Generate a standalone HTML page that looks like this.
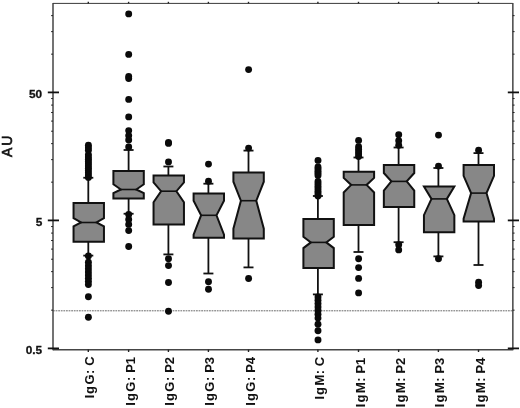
<!DOCTYPE html>
<html><head><meta charset="utf-8"><title>AU boxplot</title>
<style>html,body{margin:0;padding:0;background:#fff;}svg{display:block;}</style>
</head><body>
<svg width="520" height="408" viewBox="0 0 520 408">
<rect x="0" y="0" width="520" height="408" fill="#fff"/>
<line x1="53.0" y1="310.8" x2="512.7" y2="310.8" stroke="#6a6a6a" stroke-width="1" stroke-dasharray="1.8 0.8"/>
<line x1="53.0" y1="2.9499999999999997" x2="53.0" y2="350.20000000000005" stroke="#454545" stroke-width="1.5"/>
<line x1="512.85" y1="2.9499999999999997" x2="512.85" y2="350.20000000000005" stroke="#454545" stroke-width="1.5"/>
<line x1="53.0" y1="3.4" x2="512.7" y2="3.4" stroke="#3a3a3a" stroke-width="1.0"/>
<line x1="53.0" y1="349.75" x2="512.7" y2="349.75" stroke="#454545" stroke-width="1.3"/>
<line x1="47.8" y1="92.40" x2="59" y2="92.40" stroke="#111" stroke-width="1.8"/>
<line x1="507.8" y1="92.40" x2="519" y2="92.40" stroke="#111" stroke-width="1.8"/>
<line x1="47.8" y1="220.40" x2="59" y2="220.40" stroke="#111" stroke-width="1.8"/>
<line x1="507.8" y1="220.40" x2="519" y2="220.40" stroke="#111" stroke-width="1.8"/>
<line x1="47.8" y1="348.40" x2="59" y2="348.40" stroke="#111" stroke-width="1.8"/>
<line x1="507.8" y1="348.40" x2="519" y2="348.40" stroke="#111" stroke-width="1.8"/>
<line x1="51.1" y1="310.17" x2="53.0" y2="310.17" stroke="#222" stroke-width="1"/>
<line x1="512.7" y1="310.17" x2="514.6" y2="310.17" stroke="#222" stroke-width="1"/>
<line x1="51.1" y1="287.63" x2="53.0" y2="287.63" stroke="#222" stroke-width="1"/>
<line x1="512.7" y1="287.63" x2="514.6" y2="287.63" stroke="#222" stroke-width="1"/>
<line x1="51.1" y1="271.64" x2="53.0" y2="271.64" stroke="#222" stroke-width="1"/>
<line x1="512.7" y1="271.64" x2="514.6" y2="271.64" stroke="#222" stroke-width="1"/>
<line x1="51.1" y1="259.23" x2="53.0" y2="259.23" stroke="#222" stroke-width="1"/>
<line x1="512.7" y1="259.23" x2="514.6" y2="259.23" stroke="#222" stroke-width="1"/>
<line x1="51.1" y1="249.10" x2="53.0" y2="249.10" stroke="#222" stroke-width="1"/>
<line x1="512.7" y1="249.10" x2="514.6" y2="249.10" stroke="#222" stroke-width="1"/>
<line x1="51.1" y1="240.53" x2="53.0" y2="240.53" stroke="#222" stroke-width="1"/>
<line x1="512.7" y1="240.53" x2="514.6" y2="240.53" stroke="#222" stroke-width="1"/>
<line x1="51.1" y1="233.10" x2="53.0" y2="233.10" stroke="#222" stroke-width="1"/>
<line x1="512.7" y1="233.10" x2="514.6" y2="233.10" stroke="#222" stroke-width="1"/>
<line x1="51.1" y1="226.56" x2="53.0" y2="226.56" stroke="#222" stroke-width="1"/>
<line x1="512.7" y1="226.56" x2="514.6" y2="226.56" stroke="#222" stroke-width="1"/>
<line x1="51.1" y1="182.17" x2="53.0" y2="182.17" stroke="#222" stroke-width="1"/>
<line x1="512.7" y1="182.17" x2="514.6" y2="182.17" stroke="#222" stroke-width="1"/>
<line x1="51.1" y1="159.63" x2="53.0" y2="159.63" stroke="#222" stroke-width="1"/>
<line x1="512.7" y1="159.63" x2="514.6" y2="159.63" stroke="#222" stroke-width="1"/>
<line x1="51.1" y1="143.64" x2="53.0" y2="143.64" stroke="#222" stroke-width="1"/>
<line x1="512.7" y1="143.64" x2="514.6" y2="143.64" stroke="#222" stroke-width="1"/>
<line x1="51.1" y1="131.23" x2="53.0" y2="131.23" stroke="#222" stroke-width="1"/>
<line x1="512.7" y1="131.23" x2="514.6" y2="131.23" stroke="#222" stroke-width="1"/>
<line x1="51.1" y1="121.10" x2="53.0" y2="121.10" stroke="#222" stroke-width="1"/>
<line x1="512.7" y1="121.10" x2="514.6" y2="121.10" stroke="#222" stroke-width="1"/>
<line x1="51.1" y1="112.53" x2="53.0" y2="112.53" stroke="#222" stroke-width="1"/>
<line x1="512.7" y1="112.53" x2="514.6" y2="112.53" stroke="#222" stroke-width="1"/>
<line x1="51.1" y1="105.10" x2="53.0" y2="105.10" stroke="#222" stroke-width="1"/>
<line x1="512.7" y1="105.10" x2="514.6" y2="105.10" stroke="#222" stroke-width="1"/>
<line x1="51.1" y1="98.56" x2="53.0" y2="98.56" stroke="#222" stroke-width="1"/>
<line x1="512.7" y1="98.56" x2="514.6" y2="98.56" stroke="#222" stroke-width="1"/>
<line x1="51.1" y1="54.17" x2="53.0" y2="54.17" stroke="#222" stroke-width="1"/>
<line x1="512.7" y1="54.17" x2="514.6" y2="54.17" stroke="#222" stroke-width="1"/>
<line x1="51.1" y1="31.63" x2="53.0" y2="31.63" stroke="#222" stroke-width="1"/>
<line x1="512.7" y1="31.63" x2="514.6" y2="31.63" stroke="#222" stroke-width="1"/>
<line x1="51.1" y1="15.64" x2="53.0" y2="15.64" stroke="#222" stroke-width="1"/>
<line x1="512.7" y1="15.64" x2="514.6" y2="15.64" stroke="#222" stroke-width="1"/>
<line x1="88.3" y1="1.7999999999999998" x2="88.3" y2="3.4" stroke="#222" stroke-width="1.4"/>
<line x1="88.3" y1="349.6" x2="88.3" y2="352.0" stroke="#222" stroke-width="1.4"/>
<line x1="128.6" y1="1.7999999999999998" x2="128.6" y2="3.4" stroke="#222" stroke-width="1.4"/>
<line x1="128.6" y1="349.6" x2="128.6" y2="352.0" stroke="#222" stroke-width="1.4"/>
<line x1="168.4" y1="1.7999999999999998" x2="168.4" y2="3.4" stroke="#222" stroke-width="1.4"/>
<line x1="168.4" y1="349.6" x2="168.4" y2="352.0" stroke="#222" stroke-width="1.4"/>
<line x1="208.4" y1="1.7999999999999998" x2="208.4" y2="3.4" stroke="#222" stroke-width="1.4"/>
<line x1="208.4" y1="349.6" x2="208.4" y2="352.0" stroke="#222" stroke-width="1.4"/>
<line x1="248.5" y1="1.7999999999999998" x2="248.5" y2="3.4" stroke="#222" stroke-width="1.4"/>
<line x1="248.5" y1="349.6" x2="248.5" y2="352.0" stroke="#222" stroke-width="1.4"/>
<line x1="317.9" y1="1.7999999999999998" x2="317.9" y2="3.4" stroke="#222" stroke-width="1.4"/>
<line x1="317.9" y1="349.6" x2="317.9" y2="352.0" stroke="#222" stroke-width="1.4"/>
<line x1="358.5" y1="1.7999999999999998" x2="358.5" y2="3.4" stroke="#222" stroke-width="1.4"/>
<line x1="358.5" y1="349.6" x2="358.5" y2="352.0" stroke="#222" stroke-width="1.4"/>
<line x1="398.6" y1="1.7999999999999998" x2="398.6" y2="3.4" stroke="#222" stroke-width="1.4"/>
<line x1="398.6" y1="349.6" x2="398.6" y2="352.0" stroke="#222" stroke-width="1.4"/>
<line x1="438.4" y1="1.7999999999999998" x2="438.4" y2="3.4" stroke="#222" stroke-width="1.4"/>
<line x1="438.4" y1="349.6" x2="438.4" y2="352.0" stroke="#222" stroke-width="1.4"/>
<line x1="478.5" y1="1.7999999999999998" x2="478.5" y2="3.4" stroke="#222" stroke-width="1.4"/>
<line x1="478.5" y1="349.6" x2="478.5" y2="352.0" stroke="#222" stroke-width="1.4"/>
<line x1="88.3" y1="177.75" x2="88.3" y2="203" stroke="#111" stroke-width="1.8"/>
<line x1="88.3" y1="241.7" x2="88.3" y2="255.6" stroke="#111" stroke-width="1.8"/>
<line x1="83.3" y1="177.75" x2="93.3" y2="177.75" stroke="#111" stroke-width="1.8"/>
<line x1="83.3" y1="255.6" x2="93.3" y2="255.6" stroke="#111" stroke-width="1.8"/>
<polygon points="73.55,203.00 103.95,203.00 103.95,218.10 96.45,222.50 103.95,226.40 103.95,241.70 73.55,241.70 73.55,226.40 81.05,222.50 73.55,218.10" fill="#878787" stroke="#111" stroke-width="2" stroke-linejoin="miter"/>
<line x1="81.05" y1="222.5" x2="96.45" y2="222.5" stroke="#111" stroke-width="1.6"/>
<circle cx="88.39999999999999" cy="145.30" r="3.45" fill="#0a0a0a"/>
<circle cx="88.39999999999999" cy="147.75" r="3.45" fill="#0a0a0a"/>
<circle cx="88.39999999999999" cy="150.20" r="3.45" fill="#0a0a0a"/>
<circle cx="88.39999999999999" cy="154.60" r="3.45" fill="#0a0a0a"/>
<circle cx="88.39999999999999" cy="156.88" r="3.45" fill="#0a0a0a"/>
<circle cx="88.39999999999999" cy="159.16" r="3.45" fill="#0a0a0a"/>
<circle cx="88.39999999999999" cy="161.44" r="3.45" fill="#0a0a0a"/>
<circle cx="88.39999999999999" cy="163.72" r="3.45" fill="#0a0a0a"/>
<circle cx="88.39999999999999" cy="166.00" r="3.45" fill="#0a0a0a"/>
<circle cx="88.39999999999999" cy="168.28" r="3.45" fill="#0a0a0a"/>
<circle cx="88.39999999999999" cy="170.56" r="3.45" fill="#0a0a0a"/>
<circle cx="88.39999999999999" cy="172.84" r="3.45" fill="#0a0a0a"/>
<circle cx="88.39999999999999" cy="175.12" r="3.45" fill="#0a0a0a"/>
<circle cx="88.39999999999999" cy="177.40" r="3.45" fill="#0a0a0a"/>
<circle cx="88.39999999999999" cy="256.00" r="3.45" fill="#0a0a0a"/>
<circle cx="88.39999999999999" cy="262.20" r="3.45" fill="#0a0a0a"/>
<circle cx="88.39999999999999" cy="265.70" r="3.45" fill="#0a0a0a"/>
<circle cx="88.39999999999999" cy="268.83" r="3.45" fill="#0a0a0a"/>
<circle cx="88.39999999999999" cy="271.97" r="3.45" fill="#0a0a0a"/>
<circle cx="88.39999999999999" cy="275.10" r="3.45" fill="#0a0a0a"/>
<circle cx="88.39999999999999" cy="278.23" r="3.45" fill="#0a0a0a"/>
<circle cx="88.39999999999999" cy="281.37" r="3.45" fill="#0a0a0a"/>
<circle cx="88.39999999999999" cy="284.50" r="3.45" fill="#0a0a0a"/>
<circle cx="88.39999999999999" cy="296.80" r="3.45" fill="#0a0a0a"/>
<circle cx="88.39999999999999" cy="317.25" r="3.45" fill="#0a0a0a"/>
<line x1="128.6" y1="150" x2="128.6" y2="171" stroke="#111" stroke-width="1.8"/>
<line x1="128.6" y1="198.6" x2="128.6" y2="213.75" stroke="#111" stroke-width="1.8"/>
<line x1="123.6" y1="150" x2="133.6" y2="150" stroke="#111" stroke-width="1.8"/>
<line x1="123.6" y1="213.75" x2="133.6" y2="213.75" stroke="#111" stroke-width="1.8"/>
<polygon points="113.40,171.00 143.80,171.00 143.80,184.30 136.30,189.50 143.80,193.10 143.80,198.60 113.40,198.60 113.40,193.10 120.90,189.50 113.40,184.30" fill="#878787" stroke="#111" stroke-width="2" stroke-linejoin="miter"/>
<line x1="120.89999999999999" y1="189.5" x2="136.29999999999998" y2="189.5" stroke="#111" stroke-width="1.6"/>
<circle cx="128.7" cy="13.90" r="3.45" fill="#0a0a0a"/>
<circle cx="128.7" cy="54.40" r="3.45" fill="#0a0a0a"/>
<circle cx="128.7" cy="76.50" r="3.45" fill="#0a0a0a"/>
<circle cx="128.7" cy="78.50" r="3.45" fill="#0a0a0a"/>
<circle cx="128.7" cy="99.40" r="3.45" fill="#0a0a0a"/>
<circle cx="128.7" cy="116.90" r="3.45" fill="#0a0a0a"/>
<circle cx="128.7" cy="130.60" r="3.45" fill="#0a0a0a"/>
<circle cx="128.7" cy="135.60" r="3.45" fill="#0a0a0a"/>
<circle cx="128.7" cy="140.00" r="3.45" fill="#0a0a0a"/>
<circle cx="128.7" cy="146.90" r="3.45" fill="#0a0a0a"/>
<circle cx="128.7" cy="214.40" r="3.45" fill="#0a0a0a"/>
<circle cx="128.7" cy="219.40" r="3.45" fill="#0a0a0a"/>
<circle cx="128.7" cy="224.40" r="3.45" fill="#0a0a0a"/>
<circle cx="128.7" cy="230.60" r="3.45" fill="#0a0a0a"/>
<circle cx="128.7" cy="246.50" r="3.45" fill="#0a0a0a"/>
<line x1="168.4" y1="166.5" x2="168.4" y2="175.5" stroke="#111" stroke-width="1.8"/>
<line x1="168.4" y1="224.6" x2="168.4" y2="254.4" stroke="#111" stroke-width="1.8"/>
<line x1="163.4" y1="166.5" x2="173.4" y2="166.5" stroke="#111" stroke-width="1.8"/>
<line x1="163.4" y1="254.4" x2="173.4" y2="254.4" stroke="#111" stroke-width="1.8"/>
<polygon points="153.55,175.50 183.95,175.50 183.95,182.50 176.45,191.20 183.95,202.20 183.95,224.60 153.55,224.60 153.55,202.20 161.05,191.20 153.55,182.50" fill="#878787" stroke="#111" stroke-width="2" stroke-linejoin="miter"/>
<line x1="161.05" y1="191.2" x2="176.45" y2="191.2" stroke="#111" stroke-width="1.6"/>
<circle cx="168.5" cy="142.40" r="3.45" fill="#0a0a0a"/>
<circle cx="168.5" cy="143.40" r="3.45" fill="#0a0a0a"/>
<circle cx="168.5" cy="161.90" r="3.45" fill="#0a0a0a"/>
<circle cx="168.5" cy="258.75" r="3.45" fill="#0a0a0a"/>
<circle cx="168.5" cy="265.60" r="3.45" fill="#0a0a0a"/>
<circle cx="168.5" cy="282.50" r="3.45" fill="#0a0a0a"/>
<circle cx="168.5" cy="311.25" r="3.45" fill="#0a0a0a"/>
<line x1="208.4" y1="183.7" x2="208.4" y2="193.4" stroke="#111" stroke-width="1.8"/>
<line x1="208.4" y1="237.8" x2="208.4" y2="273.5" stroke="#111" stroke-width="1.8"/>
<line x1="203.4" y1="183.7" x2="213.4" y2="183.7" stroke="#111" stroke-width="1.8"/>
<line x1="203.4" y1="273.5" x2="213.4" y2="273.5" stroke="#111" stroke-width="1.8"/>
<polygon points="193.60,193.40 224.00,193.40 224.00,200.80 216.50,215.30 224.00,234.60 224.00,237.80 193.60,237.80 193.60,234.60 201.10,215.30 193.60,200.80" fill="#878787" stroke="#111" stroke-width="2" stroke-linejoin="miter"/>
<line x1="201.10000000000002" y1="215.3" x2="216.5" y2="215.3" stroke="#111" stroke-width="1.6"/>
<circle cx="208.5" cy="164.10" r="3.45" fill="#0a0a0a"/>
<circle cx="208.5" cy="181.25" r="3.45" fill="#0a0a0a"/>
<circle cx="208.5" cy="281.80" r="3.45" fill="#0a0a0a"/>
<circle cx="208.5" cy="289.20" r="3.45" fill="#0a0a0a"/>
<line x1="248.5" y1="150.6" x2="248.5" y2="172.6" stroke="#111" stroke-width="1.8"/>
<line x1="248.5" y1="238.6" x2="248.5" y2="267.4" stroke="#111" stroke-width="1.8"/>
<line x1="243.5" y1="150.6" x2="253.5" y2="150.6" stroke="#111" stroke-width="1.8"/>
<line x1="243.5" y1="267.4" x2="253.5" y2="267.4" stroke="#111" stroke-width="1.8"/>
<polygon points="233.40,172.60 263.80,172.60 263.80,181.70 256.30,200.70 263.80,228.70 263.80,238.60 233.40,238.60 233.40,228.70 240.90,200.70 233.40,181.70" fill="#878787" stroke="#111" stroke-width="2" stroke-linejoin="miter"/>
<line x1="240.9" y1="200.7" x2="256.3" y2="200.7" stroke="#111" stroke-width="1.6"/>
<circle cx="248.6" cy="69.60" r="3.45" fill="#0a0a0a"/>
<circle cx="248.6" cy="148.10" r="3.45" fill="#0a0a0a"/>
<circle cx="248.6" cy="278.50" r="3.45" fill="#0a0a0a"/>
<line x1="317.9" y1="196" x2="317.9" y2="219" stroke="#111" stroke-width="1.8"/>
<line x1="317.9" y1="268.0" x2="317.9" y2="294.4" stroke="#111" stroke-width="1.8"/>
<line x1="312.9" y1="196" x2="322.9" y2="196" stroke="#111" stroke-width="1.8"/>
<line x1="312.9" y1="294.4" x2="322.9" y2="294.4" stroke="#111" stroke-width="1.8"/>
<polygon points="303.40,219.00 333.80,219.00 333.80,236.70 326.30,242.40 333.80,248.10 333.80,268.00 303.40,268.00 303.40,248.10 310.90,242.40 303.40,236.70" fill="#878787" stroke="#111" stroke-width="2" stroke-linejoin="miter"/>
<line x1="310.90000000000003" y1="242.4" x2="326.3" y2="242.4" stroke="#111" stroke-width="1.6"/>
<circle cx="318.0" cy="160.40" r="3.45" fill="#0a0a0a"/>
<circle cx="318.0" cy="166.90" r="3.45" fill="#0a0a0a"/>
<circle cx="318.0" cy="169.03" r="3.45" fill="#0a0a0a"/>
<circle cx="318.0" cy="171.15" r="3.45" fill="#0a0a0a"/>
<circle cx="318.0" cy="173.28" r="3.45" fill="#0a0a0a"/>
<circle cx="318.0" cy="175.40" r="3.45" fill="#0a0a0a"/>
<circle cx="318.0" cy="181.40" r="3.45" fill="#0a0a0a"/>
<circle cx="318.0" cy="183.83" r="3.45" fill="#0a0a0a"/>
<circle cx="318.0" cy="186.27" r="3.45" fill="#0a0a0a"/>
<circle cx="318.0" cy="188.70" r="3.45" fill="#0a0a0a"/>
<circle cx="318.0" cy="191.13" r="3.45" fill="#0a0a0a"/>
<circle cx="318.0" cy="193.57" r="3.45" fill="#0a0a0a"/>
<circle cx="318.0" cy="196.00" r="3.45" fill="#0a0a0a"/>
<circle cx="318.0" cy="297.00" r="3.45" fill="#0a0a0a"/>
<circle cx="318.0" cy="300.20" r="3.45" fill="#0a0a0a"/>
<circle cx="318.0" cy="303.60" r="3.45" fill="#0a0a0a"/>
<circle cx="318.0" cy="307.00" r="3.45" fill="#0a0a0a"/>
<circle cx="318.0" cy="310.50" r="3.45" fill="#0a0a0a"/>
<circle cx="318.0" cy="314.20" r="3.45" fill="#0a0a0a"/>
<circle cx="318.0" cy="318.10" r="3.45" fill="#0a0a0a"/>
<circle cx="318.0" cy="324.20" r="3.45" fill="#0a0a0a"/>
<circle cx="318.0" cy="330.80" r="3.45" fill="#0a0a0a"/>
<circle cx="318.0" cy="339.90" r="3.45" fill="#0a0a0a"/>
<line x1="358.5" y1="157.5" x2="358.5" y2="171.8" stroke="#111" stroke-width="1.8"/>
<line x1="358.5" y1="225.1" x2="358.5" y2="252" stroke="#111" stroke-width="1.8"/>
<line x1="353.5" y1="157.5" x2="363.5" y2="157.5" stroke="#111" stroke-width="1.8"/>
<line x1="353.5" y1="252" x2="363.5" y2="252" stroke="#111" stroke-width="1.8"/>
<polygon points="343.70,171.80 374.10,171.80 374.10,177.90 366.60,184.90 374.10,192.50 374.10,225.10 343.70,225.10 343.70,192.50 351.20,184.90 343.70,177.90" fill="#878787" stroke="#111" stroke-width="2" stroke-linejoin="miter"/>
<line x1="351.2" y1="184.9" x2="366.59999999999997" y2="184.9" stroke="#111" stroke-width="1.6"/>
<circle cx="358.6" cy="140.40" r="3.45" fill="#0a0a0a"/>
<circle cx="358.6" cy="146.80" r="3.45" fill="#0a0a0a"/>
<circle cx="358.6" cy="149.23" r="3.45" fill="#0a0a0a"/>
<circle cx="358.6" cy="151.65" r="3.45" fill="#0a0a0a"/>
<circle cx="358.6" cy="154.07" r="3.45" fill="#0a0a0a"/>
<circle cx="358.6" cy="156.50" r="3.45" fill="#0a0a0a"/>
<circle cx="358.6" cy="258.80" r="3.45" fill="#0a0a0a"/>
<circle cx="358.6" cy="267.60" r="3.45" fill="#0a0a0a"/>
<circle cx="358.6" cy="278.40" r="3.45" fill="#0a0a0a"/>
<circle cx="358.6" cy="292.90" r="3.45" fill="#0a0a0a"/>
<line x1="398.6" y1="147.5" x2="398.6" y2="164.9" stroke="#111" stroke-width="1.8"/>
<line x1="398.6" y1="206.9" x2="398.6" y2="242.2" stroke="#111" stroke-width="1.8"/>
<line x1="393.6" y1="147.5" x2="403.6" y2="147.5" stroke="#111" stroke-width="1.8"/>
<line x1="393.6" y1="242.2" x2="403.6" y2="242.2" stroke="#111" stroke-width="1.8"/>
<polygon points="383.85,164.90 414.25,164.90 414.25,173.00 406.75,181.40 414.25,190.60 414.25,206.90 383.85,206.90 383.85,190.60 391.35,181.40 383.85,173.00" fill="#878787" stroke="#111" stroke-width="2" stroke-linejoin="miter"/>
<line x1="391.35" y1="181.4" x2="406.75" y2="181.4" stroke="#111" stroke-width="1.6"/>
<circle cx="398.70000000000005" cy="134.80" r="3.45" fill="#0a0a0a"/>
<circle cx="398.70000000000005" cy="140.80" r="3.45" fill="#0a0a0a"/>
<circle cx="398.70000000000005" cy="145.30" r="3.45" fill="#0a0a0a"/>
<circle cx="398.70000000000005" cy="244.70" r="3.45" fill="#0a0a0a"/>
<circle cx="398.70000000000005" cy="249.90" r="3.45" fill="#0a0a0a"/>
<line x1="438.4" y1="168" x2="438.4" y2="186.4" stroke="#111" stroke-width="1.8"/>
<line x1="438.4" y1="232.3" x2="438.4" y2="256.4" stroke="#111" stroke-width="1.8"/>
<line x1="433.4" y1="168" x2="443.4" y2="168" stroke="#111" stroke-width="1.8"/>
<line x1="433.4" y1="256.4" x2="443.4" y2="256.4" stroke="#111" stroke-width="1.8"/>
<polygon points="423.95,186.40 454.35,186.40 454.35,186.40 446.85,198.90 454.35,215.10 454.35,232.30 423.95,232.30 423.95,215.10 431.45,198.90 423.95,186.40" fill="#878787" stroke="#111" stroke-width="2" stroke-linejoin="miter"/>
<line x1="431.45" y1="198.9" x2="446.84999999999997" y2="198.9" stroke="#111" stroke-width="1.6"/>
<circle cx="438.5" cy="135.10" r="3.45" fill="#0a0a0a"/>
<circle cx="438.5" cy="166.10" r="3.45" fill="#0a0a0a"/>
<circle cx="438.5" cy="258.80" r="3.45" fill="#0a0a0a"/>
<line x1="478.5" y1="153.1" x2="478.5" y2="164.9" stroke="#111" stroke-width="1.8"/>
<line x1="478.5" y1="221.6" x2="478.5" y2="265" stroke="#111" stroke-width="1.8"/>
<line x1="473.5" y1="153.1" x2="483.5" y2="153.1" stroke="#111" stroke-width="1.8"/>
<line x1="473.5" y1="265" x2="483.5" y2="265" stroke="#111" stroke-width="1.8"/>
<polygon points="463.60,164.90 494.00,164.90 494.00,175.80 486.50,193.10 494.00,218.60 494.00,221.60 463.60,221.60 463.60,218.60 471.10,193.10 463.60,175.80" fill="#878787" stroke="#111" stroke-width="2" stroke-linejoin="miter"/>
<line x1="471.1" y1="193.1" x2="486.5" y2="193.1" stroke="#111" stroke-width="1.6"/>
<circle cx="478.6" cy="150.20" r="3.45" fill="#0a0a0a"/>
<circle cx="478.6" cy="282.20" r="3.45" fill="#0a0a0a"/>
<circle cx="478.6" cy="285.50" r="3.45" fill="#0a0a0a"/>
<text x="42.2" y="97.80" text-anchor="end" font-size="11.8" font-family="Liberation Sans, Arial, Helvetica, sans-serif" font-weight="bold" fill="#111" stroke="#111" stroke-width="0.3">50</text>
<text x="42.2" y="225.80" text-anchor="end" font-size="11.8" font-family="Liberation Sans, Arial, Helvetica, sans-serif" font-weight="bold" fill="#111" stroke="#111" stroke-width="0.3">5</text>
<text x="42.2" y="353.80" text-anchor="end" font-size="11.8" font-family="Liberation Sans, Arial, Helvetica, sans-serif" font-weight="bold" fill="#111" stroke="#111" stroke-width="0.3">0.5</text>
<text transform="translate(12.0,156.9) rotate(-90) scale(1,1.07)" text-anchor="start" font-size="14" letter-spacing="1.7" font-family="Liberation Sans, Arial, Helvetica, sans-serif" font-weight="normal" fill="#111" stroke="#111" stroke-width="0.6">AU</text>
<text transform="translate(94.30,355.90) rotate(-90) scale(1,1.01)" dx="0 0.17 1.02 -0.15 0 -0.95" text-anchor="end" font-size="13" letter-spacing="0.55" font-family="Liberation Sans, Arial, Helvetica, sans-serif" font-weight="bold" fill="#111" stroke="#111" stroke-width="0.05">IgG: C</text>
<text transform="translate(134.60,356.50) rotate(-90) scale(1,1.01)" dx="0 0.48 0.98 0 0 -0.85 -0.7" text-anchor="end" font-size="13" letter-spacing="0.55" font-family="Liberation Sans, Arial, Helvetica, sans-serif" font-weight="bold" fill="#111" stroke="#111" stroke-width="0.05">IgG: P1</text>
<text transform="translate(174.40,356.50) rotate(-90) scale(1,1.01)" dx="0 0.48 0.98 0 0 -0.85 -0.7" text-anchor="end" font-size="13" letter-spacing="0.55" font-family="Liberation Sans, Arial, Helvetica, sans-serif" font-weight="bold" fill="#111" stroke="#111" stroke-width="0.05">IgG: P2</text>
<text transform="translate(214.40,356.50) rotate(-90) scale(1,1.01)" dx="0 0.48 0.98 0 0 -0.85 -0.7" text-anchor="end" font-size="13" letter-spacing="0.55" font-family="Liberation Sans, Arial, Helvetica, sans-serif" font-weight="bold" fill="#111" stroke="#111" stroke-width="0.05">IgG: P3</text>
<text transform="translate(254.50,356.50) rotate(-90) scale(1,1.01)" dx="0 0.48 0.98 0 0 -0.85 -0.7" text-anchor="end" font-size="13" letter-spacing="0.55" font-family="Liberation Sans, Arial, Helvetica, sans-serif" font-weight="bold" fill="#111" stroke="#111" stroke-width="0.05">IgG: P4</text>
<text transform="translate(323.90,356.30) rotate(-90) scale(1,1.01)" dx="0 0.17 1.02 -0.15 0 -0.95" text-anchor="end" font-size="13" letter-spacing="0.55" font-family="Liberation Sans, Arial, Helvetica, sans-serif" font-weight="bold" fill="#111" stroke="#111" stroke-width="0.05">IgM: C</text>
<text transform="translate(364.50,357.20) rotate(-90) scale(1,1.01)" dx="0 0.48 0.98 0 0 -0.85 -0.7" text-anchor="end" font-size="13" letter-spacing="0.55" font-family="Liberation Sans, Arial, Helvetica, sans-serif" font-weight="bold" fill="#111" stroke="#111" stroke-width="0.05">IgM: P1</text>
<text transform="translate(404.60,357.20) rotate(-90) scale(1,1.01)" dx="0 0.48 0.98 0 0 -0.85 -0.7" text-anchor="end" font-size="13" letter-spacing="0.55" font-family="Liberation Sans, Arial, Helvetica, sans-serif" font-weight="bold" fill="#111" stroke="#111" stroke-width="0.05">IgM: P2</text>
<text transform="translate(444.40,357.20) rotate(-90) scale(1,1.01)" dx="0 0.48 0.98 0 0 -0.85 -0.7" text-anchor="end" font-size="13" letter-spacing="0.55" font-family="Liberation Sans, Arial, Helvetica, sans-serif" font-weight="bold" fill="#111" stroke="#111" stroke-width="0.05">IgM: P3</text>
<text transform="translate(484.50,357.20) rotate(-90) scale(1,1.01)" dx="0 0.48 0.98 0 0 -0.85 -0.7" text-anchor="end" font-size="13" letter-spacing="0.55" font-family="Liberation Sans, Arial, Helvetica, sans-serif" font-weight="bold" fill="#111" stroke="#111" stroke-width="0.05">IgM: P4</text>
</svg>
</body></html>
